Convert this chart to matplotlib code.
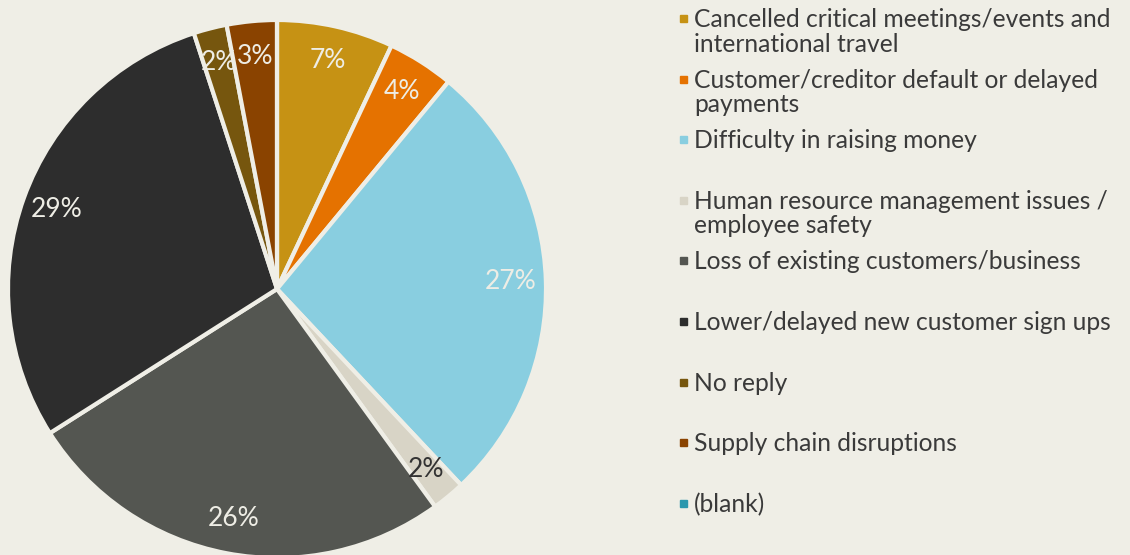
import matplotlib.pyplot as plt
from matplotlib.patches import Rectangle

# data
categories = [
    "Cancelled critical meetings/events and\ninternational travel",
    "Customer/creditor default or delayed\npayments",
    "Difficulty in raising money",
    "Human resource management issues /\nemployee safety",
    "Loss of existing customers/business",
    "Lower/delayed new customer sign ups",
    "No reply",
    "Supply chain disruptions",
    "(blank)",
]
shares = [7, 4, 27, 2, 26, 29, 2, 3, 0]
colors = ["#C69214", "#E57200", "#89CEE0", "#D8D4C6", "#545651",
          "#2D2D2D", "#76560E", "#8A4300", "#2B97AD"]

bg = "#EFEEE6"
plt.rcParams['font.family'] = ['Lato', 'DejaVu Sans']

W, H = 1130, 555
fig = plt.figure(figsize=(W / 100, H / 100), dpi=100, facecolor=bg)

# pie axes: square in pixels, centre ~ (277, 289), radius ~ 269
cx, cy, r = 277, 289, 269
ax = fig.add_axes([(cx - r) / W, (H - cy - r) / H, 2 * r / W, 2 * r / H])
ax.set_facecolor(bg)

def pct(v):
    return "" if v < 0.5 else "%d%%" % round(v)

wedges, texts, autotexts = ax.pie(
    shares, colors=colors, startangle=90, counterclock=False,
    autopct=pct, pctdistance=0.87, radius=1.0,
    wedgeprops=dict(edgecolor=bg, linewidth=3),
    textprops=dict(fontsize=19, color="#EEEDE5"))
for i, t in enumerate(autotexts):
    if categories[i].startswith("Human"):
        t.set_color("#333333")
ax.set_xlim(-1, 1)
ax.set_ylim(-1, 1)
ax.set_aspect("equal")
ax.axis("off")

# legend, drawn by hand to keep the fixed row spacing
lx, ly0, step = 694, 18, 60.6
for i, (lab, col) in enumerate(zip(categories, colors)):
    y = ly0 + i * step
    fig.text(lx / W, 1 - (y - 10) / H, lab, fontsize=17.7, color="#3A3A3A",
             va="top", ha="left", linespacing=1.08)
    fig.patches.append(Rectangle(((lx - 14) / W, 1 - (y + 4) / H), 7 / W, 7 / H,
                                 transform=fig.transFigure, color=col))

fig.savefig("out.png", dpi=100, facecolor=bg)
